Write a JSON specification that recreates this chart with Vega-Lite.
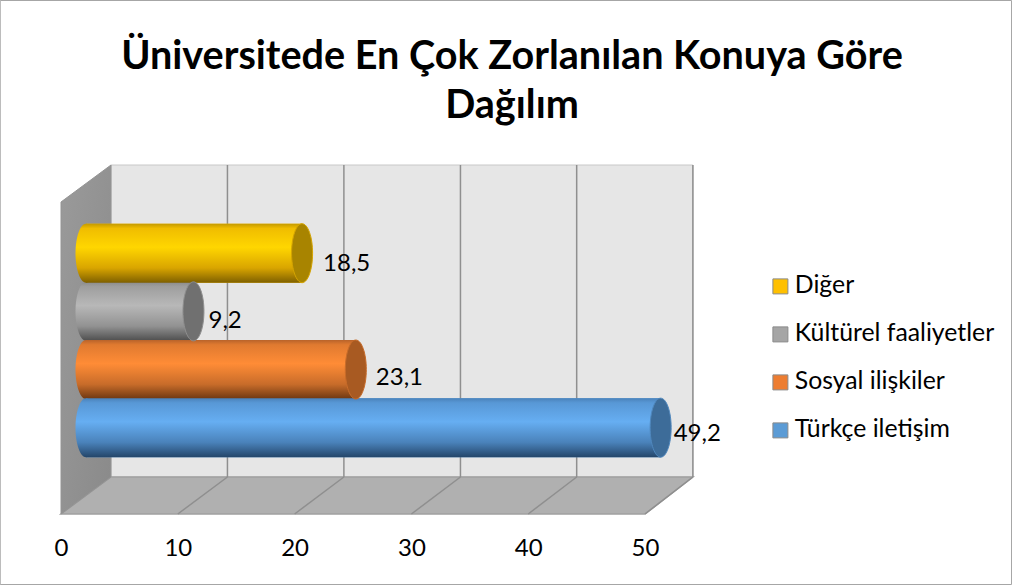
{
"$schema":"https://vega.github.io/schema/vega-lite/v6.json",
"width":584,"height":349,
"autosize":{"type":"none"},
"padding":{"left":61,"top":165,"right":367,"bottom":71},
"background":"white",
"config":{"view":{"stroke":null},"font":"Lato"},
"title":{"text":["Üniversitede En Çok Zorlanılan Konuya Göre","Dağılım"],"font":"Lato","fontSize":39.6,"fontWeight":"bold","color":"black","anchor":"middle","frame":"group","dx":159,"baseline":"alphabetic","lineHeight":49,"offset":-158},
"datasets":{
"bars":[
{"cat":"Diğer","value":18.5,"label":"18,5"},
{"cat":"Kültürel faaliyetler","value":9.2,"label":"9,2"},
{"cat":"Sosyal ilişkiler","value":23.1,"label":"23,1"},
{"cat":"Türkçe iletişim","value":49.2,"label":"49,2"}],
"frame":[{"x":-5.2,"x2":81.38,"y":-70.5,"y2":513.5}],
"side":[{"x":0,"y":0,"y2":312},{"x":4.28,"y":37,"y2":349}],
"floor":[{"x":0,"y":0,"y2":0},{"x":4.28,"y":0,"y2":37},{"x":50,"y":0,"y2":37},{"x":54.1,"y":37,"y2":37}],
"back":[{"x":4.28,"x2":54.1,"y":37,"y2":349}],
"grid":[{"front":10,"rear":14.25,"base":0,"wall":37,"top":349},{"front":20,"rear":24.22,"base":0,"wall":37,"top":349},{"front":30,"rear":34.2,"base":0,"wall":37,"top":349},{"front":40,"rear":44.15,"base":0,"wall":37,"top":349},{"front":50,"rear":54.1,"base":0,"wall":37,"top":349}]
},
"resolve":{"scale":{"y":"independent","color":"independent","fill":"independent"},"legend":{"color":"independent"}},
"layer":[
{"data":{"name":"frame"},"mark":{"type":"rect","fill":null,"stroke":"#a6a6a6","strokeWidth":1},
 "encoding":{"x":{"field":"x","type":"quantitative","scale":{"domain":[0,50],"nice":false,"zero":false},"title":null,"axis":{"values":[0,10,20,30,40,50],"domain":false,"ticks":false,"grid":false,"labelFontSize":24,"labelFont":"Lato","labelColor":"black","labelPadding":22,"title":null,"labelFlush":false}},"x2":{"field":"x2"},
 "y":{"field":"y","type":"quantitative","scale":{"domain":[0,349],"nice":false,"zero":false},"axis":null},"y2":{"field":"y2"}}},
{"data":{"name":"back"},"mark":{"type":"rect","fill":"#e6e6e6","stroke":"#c8c8c8","strokeWidth":1},
 "encoding":{"x":{"field":"x","type":"quantitative","title":null},"x2":{"field":"x2"},
 "y":{"field":"y","type":"quantitative","scale":{"domain":[0,349],"nice":false,"zero":false},"axis":null},"y2":{"field":"y2"}}},
{"data":{"name":"floor"},"mark":{"type":"area","fill":"#b0b0b0","stroke":"#a0a0a0","strokeWidth":1.5},
 "encoding":{"x":{"field":"x","type":"quantitative","title":null},
 "y":{"field":"y","type":"quantitative","scale":{"domain":[0,349],"nice":false,"zero":false},"axis":null},"y2":{"field":"y2"}}},
{"data":{"name":"side"},"mark":{"type":"area","stroke":"#949494","strokeWidth":1,"fill":{"gradient":"linear","x1":0,"x2":1,"y1":0,"y2":1,"stops":[{"offset":0,"color":"#9a9a9a"},{"offset":1,"color":"#8a8a8a"}]}},
 "encoding":{"x":{"field":"x","type":"quantitative","title":null},
 "y":{"field":"y","type":"quantitative","scale":{"domain":[0,349],"nice":false,"zero":false},"axis":null},"y2":{"field":"y2"}}},
{"data":{"name":"grid"},"mark":{"type":"rule","stroke":"#8f8f8f","strokeWidth":1.5},
 "encoding":{"x":{"field":"front","type":"quantitative","title":null},"x2":{"field":"rear"},
 "y":{"field":"base","type":"quantitative","scale":{"domain":[0,349],"nice":false,"zero":false},"axis":null},"y2":{"field":"wall"}}},
{"data":{"name":"grid"},"mark":{"type":"rule","stroke":"#8f8f8f","strokeWidth":1.5},
 "encoding":{"x":{"field":"rear","type":"quantitative","title":null},
 "y":{"field":"wall","type":"quantitative","scale":{"domain":[0,349],"nice":false,"zero":false},"axis":null},"y2":{"field":"top"}}},
{"data":{"name":"bars"},"mark":{"type":"bar","size":59,"xOffset":25,"x2Offset":25,"stroke":null},
 "encoding":{"x":{"field":"value","type":"quantitative","title":null},
 "y":{"field":"cat","type":"nominal","sort":null,"scale":{"domain":["Diğer","Kültürel faaliyetler","Sosyal ilişkiler","Türkçe iletişim"],"paddingInner":0,"paddingOuter":1.045,"align":0.508},"axis":null},
 "color":{"field":"cat","type":"nominal","title":null,
  "scale":{"domain":["Diğer","Kültürel faaliyetler","Sosyal ilişkiler","Türkçe iletişim"],"range":["#ffc000","#a5a5a5","#ed7d31","#5b9bd5"]},
  "legend":{"orient":"none","legendX":707,"legendY":109,"title":null,"symbolType":"square","symbolSize":225,"symbolStrokeWidth":1,"symbolStrokeColor":"#8a8a8a","labelFontSize":24.8,"labelFont":"Lato","labelColor":"black","labelOffset":2,"rowPadding":22,"labelLimit":260}}}},
{"data":{"name":"bars"},"transform":[{"filter":"datum.cat==='Kültürel faaliyetler'"}],"mark":{"type":"point","filled":true,"opacity":1,"xOffset":25,"size":3481,"shape":"M 0 -1 A 0.356 1 0 1 1 0 1 A 0.356 1 0 1 1 0 -1 Z","fill":{"gradient":"linear","x1":0,"x2":0,"y1":0,"y2":1,"stops":[{"offset":0,"color":"#8a8a8a"},{"offset":0.08,"color":"#9e9e9e"},{"offset":0.4,"color":"#b8b8b8"},{"offset":0.75,"color":"#929292"},{"offset":1,"color":"#4e4e4e"}]}},
 "encoding":{"x":{"datum":0,"type":"quantitative","title":null},
 "y":{"field":"cat","type":"nominal","sort":null,"scale":{"type":"band","domain":["Diğer","Kültürel faaliyetler","Sosyal ilişkiler","Türkçe iletişim"],"paddingInner":0,"paddingOuter":1.045,"align":0.508},"axis":null}}},
{"data":{"name":"bars"},"transform":[{"filter":"datum.cat==='Kültürel faaliyetler'"}],"mark":{"type":"bar","size":59,"xOffset":25,"x2Offset":25,"fill":{"gradient":"linear","x1":0,"x2":0,"y1":0,"y2":1,"stops":[{"offset":0,"color":"#8a8a8a"},{"offset":0.08,"color":"#9e9e9e"},{"offset":0.4,"color":"#b8b8b8"},{"offset":0.75,"color":"#929292"},{"offset":1,"color":"#4e4e4e"}]}},
 "encoding":{"x":{"field":"value","type":"quantitative","title":null},
 "y":{"field":"cat","type":"nominal","sort":null,"scale":{"domain":["Diğer","Kültürel faaliyetler","Sosyal ilişkiler","Türkçe iletişim"],"paddingInner":0,"paddingOuter":1.045,"align":0.508},"axis":null}}},
{"data":{"name":"bars"},"transform":[{"filter":"datum.cat==='Diğer'"}],"mark":{"type":"point","filled":true,"opacity":1,"xOffset":25,"size":3481,"shape":"M 0 -1 A 0.356 1 0 1 1 0 1 A 0.356 1 0 1 1 0 -1 Z","fill":{"gradient":"linear","x1":0,"x2":0,"y1":0,"y2":1,"stops":[{"offset":0,"color":"#c49a00"},{"offset":0.08,"color":"#f0bd00"},{"offset":0.4,"color":"#ffd600"},{"offset":0.75,"color":"#d9a500"},{"offset":1,"color":"#7f6000"}]}},
 "encoding":{"x":{"datum":0,"type":"quantitative","title":null},
 "y":{"field":"cat","type":"nominal","sort":null,"scale":{"type":"band","domain":["Diğer","Kültürel faaliyetler","Sosyal ilişkiler","Türkçe iletişim"],"paddingInner":0,"paddingOuter":1.045,"align":0.508},"axis":null}}},
{"data":{"name":"bars"},"transform":[{"filter":"datum.cat==='Diğer'"}],"mark":{"type":"bar","size":59,"xOffset":25,"x2Offset":25,"fill":{"gradient":"linear","x1":0,"x2":0,"y1":0,"y2":1,"stops":[{"offset":0,"color":"#c49a00"},{"offset":0.08,"color":"#f0bd00"},{"offset":0.4,"color":"#ffd600"},{"offset":0.75,"color":"#d9a500"},{"offset":1,"color":"#7f6000"}]}},
 "encoding":{"x":{"field":"value","type":"quantitative","title":null},
 "y":{"field":"cat","type":"nominal","sort":null,"scale":{"domain":["Diğer","Kültürel faaliyetler","Sosyal ilişkiler","Türkçe iletişim"],"paddingInner":0,"paddingOuter":1.045,"align":0.508},"axis":null}}},
{"data":{"name":"bars"},"transform":[{"filter":"datum.cat==='Sosyal ilişkiler'"}],"mark":{"type":"point","filled":true,"opacity":1,"xOffset":25,"size":3481,"shape":"M 0 -1 A 0.356 1 0 1 1 0 1 A 0.356 1 0 1 1 0 -1 Z","fill":{"gradient":"linear","x1":0,"x2":0,"y1":0,"y2":1,"stops":[{"offset":0,"color":"#b9632a"},{"offset":0.08,"color":"#e07a30"},{"offset":0.4,"color":"#ff8c36"},{"offset":0.75,"color":"#c86c2a"},{"offset":1,"color":"#6e3812"}]}},
 "encoding":{"x":{"datum":0,"type":"quantitative","title":null},
 "y":{"field":"cat","type":"nominal","sort":null,"scale":{"type":"band","domain":["Diğer","Kültürel faaliyetler","Sosyal ilişkiler","Türkçe iletişim"],"paddingInner":0,"paddingOuter":1.045,"align":0.508},"axis":null}}},
{"data":{"name":"bars"},"transform":[{"filter":"datum.cat==='Sosyal ilişkiler'"}],"mark":{"type":"bar","size":59,"xOffset":25,"x2Offset":25,"fill":{"gradient":"linear","x1":0,"x2":0,"y1":0,"y2":1,"stops":[{"offset":0,"color":"#b9632a"},{"offset":0.08,"color":"#e07a30"},{"offset":0.4,"color":"#ff8c36"},{"offset":0.75,"color":"#c86c2a"},{"offset":1,"color":"#6e3812"}]}},
 "encoding":{"x":{"field":"value","type":"quantitative","title":null},
 "y":{"field":"cat","type":"nominal","sort":null,"scale":{"domain":["Diğer","Kültürel faaliyetler","Sosyal ilişkiler","Türkçe iletişim"],"paddingInner":0,"paddingOuter":1.045,"align":0.508},"axis":null}}},
{"data":{"name":"bars"},"transform":[{"filter":"datum.cat==='Türkçe iletişim'"}],"mark":{"type":"point","filled":true,"opacity":1,"xOffset":25,"size":3481,"shape":"M 0 -1 A 0.356 1 0 1 1 0 1 A 0.356 1 0 1 1 0 -1 Z","fill":{"gradient":"linear","x1":0,"x2":0,"y1":0,"y2":1,"stops":[{"offset":0,"color":"#4a82ba"},{"offset":0.08,"color":"#5898d6"},{"offset":0.4,"color":"#66aef2"},{"offset":0.75,"color":"#4a82ba"},{"offset":1,"color":"#24466a"}]}},
 "encoding":{"x":{"datum":0,"type":"quantitative","title":null},
 "y":{"field":"cat","type":"nominal","sort":null,"scale":{"type":"band","domain":["Diğer","Kültürel faaliyetler","Sosyal ilişkiler","Türkçe iletişim"],"paddingInner":0,"paddingOuter":1.045,"align":0.508},"axis":null}}},
{"data":{"name":"bars"},"transform":[{"filter":"datum.cat==='Türkçe iletişim'"}],"mark":{"type":"bar","size":59,"xOffset":25,"x2Offset":25,"fill":{"gradient":"linear","x1":0,"x2":0,"y1":0,"y2":1,"stops":[{"offset":0,"color":"#4a82ba"},{"offset":0.08,"color":"#5898d6"},{"offset":0.4,"color":"#66aef2"},{"offset":0.75,"color":"#4a82ba"},{"offset":1,"color":"#24466a"}]}},
 "encoding":{"x":{"field":"value","type":"quantitative","title":null},
 "y":{"field":"cat","type":"nominal","sort":null,"scale":{"domain":["Diğer","Kültürel faaliyetler","Sosyal ilişkiler","Türkçe iletişim"],"paddingInner":0,"paddingOuter":1.045,"align":0.508},"axis":null}}},
{"data":{"name":"bars"},"mark":{"type":"point","filled":true,"opacity":1,"xOffset":25,"size":3481,"strokeWidth":1,"shape":"M 0 -1 A 0.356 1 0 1 1 0 1 A 0.356 1 0 1 1 0 -1 Z"},
 "encoding":{"x":{"field":"value","type":"quantitative","title":null},
 "y":{"field":"cat","type":"nominal","sort":null,"scale":{"type":"band","domain":["Diğer","Kültürel faaliyetler","Sosyal ilişkiler","Türkçe iletişim"],"paddingInner":0,"paddingOuter":1.045,"align":0.508},"axis":null},
 "color":{"field":"cat","type":"nominal","legend":null,"scale":{"domain":["Diğer","Kültürel faaliyetler","Sosyal ilişkiler","Türkçe iletişim"],"range":["#a88400","#707070","#a85a22","#3d6c99"]}},
 "stroke":{"field":"cat","type":"nominal","legend":null,"scale":{"domain":["Diğer","Kültürel faaliyetler","Sosyal ilişkiler","Türkçe iletişim"],"range":["#d5a400","#8f8f8f","#c86c2a","#4f87bd"]}}}},
{"data":{"name":"bars"},"transform":[{"filter":"datum.cat==='Diğer'"}],"mark":{"type":"text","align":"left","baseline":"middle","fontSize":24,"font":"Lato","color":"black","xOffset":46,"yOffset":10.5},
 "encoding":{"x":{"field":"value","type":"quantitative","title":null},"text":{"field":"label"},
 "y":{"field":"cat","type":"nominal","sort":null,"scale":{"type":"band","domain":["Diğer","Kültürel faaliyetler","Sosyal ilişkiler","Türkçe iletişim"],"paddingInner":0,"paddingOuter":1.045,"align":0.508},"axis":null}}},
{"data":{"name":"bars"},"transform":[{"filter":"datum.cat==='Kültürel faaliyetler'"}],"mark":{"type":"text","align":"left","baseline":"middle","fontSize":24,"font":"Lato","color":"black","xOffset":40,"yOffset":9.5},
 "encoding":{"x":{"field":"value","type":"quantitative","title":null},"text":{"field":"label"},
 "y":{"field":"cat","type":"nominal","sort":null,"scale":{"type":"band","domain":["Diğer","Kültürel faaliyetler","Sosyal ilişkiler","Türkçe iletişim"],"paddingInner":0,"paddingOuter":1.045,"align":0.508},"axis":null}}},
{"data":{"name":"bars"},"transform":[{"filter":"datum.cat==='Sosyal ilişkiler'"}],"mark":{"type":"text","align":"left","baseline":"middle","fontSize":24,"font":"Lato","color":"black","xOffset":45,"yOffset":8.5},
 "encoding":{"x":{"field":"value","type":"quantitative","title":null},"text":{"field":"label"},
 "y":{"field":"cat","type":"nominal","sort":null,"scale":{"type":"band","domain":["Diğer","Kültürel faaliyetler","Sosyal ilişkiler","Türkçe iletişim"],"paddingInner":0,"paddingOuter":1.045,"align":0.508},"axis":null}}},
{"data":{"name":"bars"},"transform":[{"filter":"datum.cat==='Türkçe iletişim'"}],"mark":{"type":"text","align":"left","baseline":"middle","fontSize":24,"font":"Lato","color":"black","xOffset":38,"yOffset":6.5},
 "encoding":{"x":{"field":"value","type":"quantitative","title":null},"text":{"field":"label"},
 "y":{"field":"cat","type":"nominal","sort":null,"scale":{"type":"band","domain":["Diğer","Kültürel faaliyetler","Sosyal ilişkiler","Türkçe iletişim"],"paddingInner":0,"paddingOuter":1.045,"align":0.508},"axis":null}}}
]
}
